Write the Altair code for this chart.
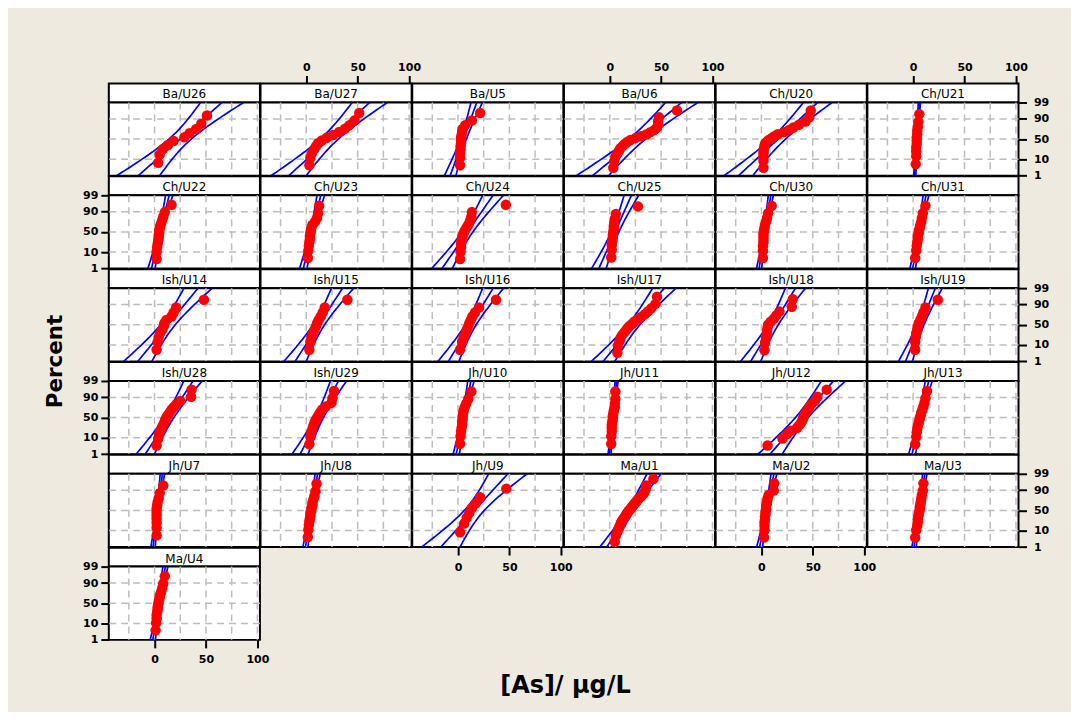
import math
import altair as alt
import pandas as pd
from statistics import NormalDist, mean, stdev

# ---- data: arsenic values per well ----
ba_u26 = [3.5, 5, 8, 13, 18.5, 29, 34, 40.5, 45.5, 51]
ba_u27 = [3, 4, 5.5, 7.5, 9.5, 11.5, 15, 20, 26, 32, 37.5, 42, 47, 51.5]
ba_u5 = [2, 2, 2, 2.5, 2.5, 3, 3, 3, 3.5, 4, 4.5, 7, 13.5, 21.5]
ba_u6 = [3.5, 4.5, 5.5, 7.5, 9, 10.5, 12.5, 14.5, 17, 20, 25, 30.5, 36, 39.5, 43.5, 46, 47, 47, 48, 65.5]
ch_u20 = [2, 2, 2, 2, 2, 2.5, 3, 3.5, 5, 7, 10, 12.5, 16, 22, 27, 31, 36.5, 43, 46.5, 48]
ch_u21 = [2.5, 3, 3, 3, 3.5, 3.5, 3.5, 4, 4, 4.5, 5, 6]
ch_u22 = [2, 2, 2.5, 3, 3.5, 4, 4, 4.5, 4.5, 5, 5.5, 6.5, 7.5, 8.5, 10, 16.5]
ch_u23 = [1.5, 2, 2.5, 3, 3.5, 3.5, 4, 4.5, 5, 6, 8.5, 10.5, 11.5, 12.5]
ch_u24 = [2, 2.5, 3, 3, 3.5, 4, 4.5, 5.5, 6.5, 8, 9.5, 11, 12, 13, 13.5, 46.5]
ch_u25 = [1.5, 2, 2, 2.5, 3, 3, 3.5, 4, 4, 4.5, 5, 6, 27.5]
ch_u30 = [1.5, 1.5, 1.5, 2, 2, 2, 2, 2.5, 3, 3.5, 4.5, 5.5, 6.5, 10]
ch_u31 = [2, 3, 3.5, 4, 4.5, 4.5, 5.5, 5.5, 6.5, 7, 8, 8.5, 9.5, 12]
ish_u14 = [2, 3, 4, 5.5, 7.5, 9, 9.5, 11.5, 16.5, 18.5, 21, 48]
ish_u15 = [3, 4, 5, 6.5, 8, 9.5, 10.5, 12, 14, 16, 18, 40]
ish_u16 = [2, 4, 5.5, 7.5, 8.5, 10, 11, 12.5, 14, 16.5, 20.5, 37]
ish_u17 = [7.5, 8, 9.5, 10.5, 12, 14, 16, 17.5, 19.5, 22, 24, 27.5, 30.5, 34, 37, 40.5, 44.5, 46]
ish_u18 = [3, 3.5, 4.5, 5, 5.5, 6, 6.5, 9, 12, 14.5, 17.5, 29.5, 30.5]
ish_u19 = [2, 2, 2.5, 3, 4, 4.5, 5.5, 7, 8.5, 10, 12, 24]
ish_u28 = [2, 3.5, 4.5, 5.5, 7, 8, 9.5, 10, 11, 12, 13.5, 15, 16.5, 18.5, 21, 25, 35.5, 36]
ish_u29 = [3, 4, 5, 6, 7, 8, 9, 10.5, 12, 13.5, 15.5, 19, 24.5, 25.5, 27]
jh_u10 = [2, 2.5, 3, 3.5, 4, 4, 4.5, 4.5, 5, 5.5, 6.5, 8, 10, 13]
jh_u11 = [1.5, 1.5, 2, 2, 2, 2.5, 3, 3, 3.5, 4, 5, 5, 5.5, 5.5]
jh_u12 = [6, 20.5, 25, 28.5, 34.5, 36.5, 38.5, 39.5, 40.5, 41, 42, 43.5, 45, 46.5, 48.5, 52, 54.5, 63.5]
jh_u13 = [2, 3, 3.5, 4, 4.5, 5.5, 6, 6.5, 7.5, 8, 9, 10, 11, 12, 13.5]
jh_u7 = [2, 2, 2, 2, 2, 2, 2, 2.5, 3, 4, 5, 8.5]
jh_u8 = [1.5, 2, 2.5, 3, 3.5, 4, 4, 5, 5, 6, 6, 7, 8, 9, 10]
jh_u9 = [2, 6, 8.5, 11, 13.5, 17.5, 21.5, 47]
ma_u1 = [5, 6, 7.5, 8.5, 9.5, 10.5, 11, 12, 13, 14, 15, 16, 16.5, 17.5, 18.5, 19.5,
         20.5, 21.5, 22.5, 23.5, 24.5, 26, 27, 28.5, 30.5, 32.5, 34, 35, 35.5, 42.5]
ma_u2 = [2.5, 3, 3, 3, 3.5, 3.5, 4, 4, 4.5, 4.5, 5, 5.5, 6, 7, 12, 12.5]
ma_u3 = [2, 3, 4, 4.5, 4.5, 5, 5.5, 6, 6.5, 6.5, 7, 7.5, 8, 8.5, 9.5, 10]
ma_u4 = [1, 1.5, 2, 2, 2.5, 3, 3, 3.5, 4, 4.5, 5, 5.5, 6.5, 7.5, 8.5, 10]

panel_names = ["Ba/U26", "Ba/U27", "Ba/U5", "Ba/U6", "Ch/U20", "Ch/U21",
               "Ch/U22", "Ch/U23", "Ch/U24", "Ch/U25", "Ch/U30", "Ch/U31",
               "Ish/U14", "Ish/U15", "Ish/U16", "Ish/U17", "Ish/U18", "Ish/U19",
               "Ish/U28", "Ish/U29", "Jh/U10", "Jh/U11", "Jh/U12", "Jh/U13",
               "Jh/U7", "Jh/U8", "Jh/U9", "Ma/U1", "Ma/U2", "Ma/U3",
               "Ma/U4"]
panel_values = [ba_u26, ba_u27, ba_u5, ba_u6, ch_u20, ch_u21,
                ch_u22, ch_u23, ch_u24, ch_u25, ch_u30, ch_u31,
                ish_u14, ish_u15, ish_u16, ish_u17, ish_u18, ish_u19,
                ish_u28, ish_u29, jh_u10, jh_u11, jh_u12, jh_u13,
                jh_u7, jh_u8, jh_u9, ma_u1, ma_u2, ma_u3,
                ma_u4]

pct_ticks = [1, 10, 50, 90, 99]
pct_labels = ["1", "10", "50", "90", "99"]
x_ticks = [0, 50, 100]
grid_x = [-25, 0, 25, 50, 75, 100]
grid_pct = [10, 50, 90]
X_DOMAIN = [-44.5, 102.5]
x_title = "[As]/ µg/L"
y_title = "Percent"

# ---- layout / style ----
NCOL = 6
W, HH, PH = 151.4, 19, 73.4
BG = "#EEEAE0"
GRID = "#BDBDBD"
FONT = "DejaVu Sans"

ND = NormalDist()
z_ticks = [ND.inv_cdf(p / 100) for p in pct_ticks]
Z_DOMAIN = [z_ticks[0], z_ticks[-1]]
z_grid = [ND.inv_cdf(p / 100) for p in grid_pct]

xscale = alt.Scale(domain=X_DOMAIN, nice=False, zero=False)
yscale = alt.Scale(domain=Z_DOMAIN, nice=False, zero=False)

expr = "'" + pct_labels[-1] + "'"
for i in range(len(z_ticks) - 2, -1, -1):
    mid = (z_ticks[i] + z_ticks[i + 1]) / 2
    expr = f"datum.value < {mid:.4f} ? '{pct_labels[i]}' : ({expr})"

title_style = dict(titleFont=FONT, titleFontWeight="bold", titleColor="black",
                   titleBaseline="middle", titleAlign="center")


def y_axis(orient, title=None, **kw):
    return alt.Axis(orient=orient, values=z_ticks, labelExpr=expr, title=title,
                    labelPadding=7 if orient == "right" else 3, **kw)


def x_axis(orient, title=None, **kw):
    return alt.Axis(orient=orient, values=x_ticks, title=title,
                    labelPadding=6 if orient == "bottom" else 3, **kw)


def plot_panel(vals, xax, yax):
    s = sorted(vals)
    n = len(s)
    pts = pd.DataFrame({"v": s,
                        "z": [ND.inv_cdf((i + 0.7) / (n + 0.4)) for i in range(n)]})
    m, sd = mean(s), stdev(s)
    rows = []
    for k in range(61):
        z = Z_DOMAIN[0] + (Z_DOMAIN[1] - Z_DOMAIN[0]) * k / 60
        half = 1.96 * sd * math.sqrt((1 + z * z / 2) / n)
        fit = m + sd * z
        rows += [{"v": fit - half, "z": z, "band": "lo"},
                 {"v": fit, "z": z, "band": "fit"},
                 {"v": fit + half, "z": z, "band": "hi"}]
    fitdf = pd.DataFrame(rows)

    def X(f):
        return alt.X(f, type="quantitative", scale=xscale, axis=xax)

    def Y(f):
        return alt.Y(f, type="quantitative", scale=yscale, axis=yax)

    vgrid = alt.Chart(pd.DataFrame({"gx": grid_x})).mark_rule(
        color=GRID, strokeWidth=1.5, strokeDash=[7, 5]).encode(x=X("gx"))
    hgrid = alt.Chart(pd.DataFrame({"gz": z_grid})).mark_rule(
        color=GRID, strokeWidth=1.5, strokeDash=[7, 5]).encode(y=Y("gz"))
    lines = alt.Chart(fitdf).mark_line(color="#0000FF", strokeWidth=1.7, clip=True).encode(
        x=X("v"), y=Y("z"), detail="band:N", order="z:Q")
    dots = alt.Chart(pts).mark_circle(color="#FF0000", size=110, opacity=1).encode(
        x=X("v"), y=Y("z"))
    return alt.layer(vgrid, hgrid, lines, dots).properties(width=W, height=PH)


def header(name, xax):
    df = pd.DataFrame({"label": [name], "mid": [sum(X_DOMAIN) / 2]})
    return alt.Chart(df).mark_text(font=FONT, fontSize=12, color="black",
                                   baseline="alphabetic").encode(
        x=alt.X("mid:Q", scale=xscale, axis=xax),
        y=alt.value(15),
        text="label:N").properties(width=W, height=HH)


def blank():
    return alt.Chart(pd.DataFrame({"a": [0]})).mark_point(opacity=0).encode(
        x=alt.value(0), y=alt.value(0)).properties(
        width=W, height=HH,
        view=alt.ViewBackground(stroke="transparent", fill="transparent"))


npan = len(panel_names)
last_row = {c: max(r for r in range(6) if r * NCOL + c < npan) for c in range(NCOL)}

cells = []
for r in range(0, math.ceil(npan / NCOL)):
    idx = list(range(r * NCOL, min((r + 1) * NCOL, npan)))
    for c in range(NCOL):
        if c < len(idx):
            xax = x_axis("top") if (r == 0 and c % 2 == 1) else None
            cells.append(header(panel_names[idx[c]], xax))
        else:
            cells.append(blank())
    for c, i in enumerate(idx):
        xax = None
        if c % 2 == 0 and last_row[c] == r:
            if panel_names[i] == "Jh/U9":
                xax = x_axis("bottom", title=x_title, titleX=153, titleY=139,
                             titleAngle=0, titleFontSize=24, **title_style)
            else:
                xax = x_axis("bottom")
        yax = None
        if c == 0 and r % 2 == 1:
            if panel_names[i] == "Ish/U28":
                yax = y_axis("left", title=y_title, titleX=-53, titleY=-20,
                             titleAngle=270, titleFontSize=21.5, **title_style)
            else:
                yax = y_axis("left")
        elif c == NCOL - 1 and r % 2 == 0:
            yax = y_axis("right")
        cells.append(plot_panel(panel_values[i], xax, yax))

chart = alt.concat(
    *cells, columns=NCOL, spacing=0, bounds="flush", align="each"
).properties(
    padding={"left": 36, "top": 52, "right": 21, "bottom": 12}
).configure(background=BG).configure_view(
    stroke="black", strokeWidth=2, fill="white"
).configure_axis(
    domain=False, grid=False, tickColor="black", tickWidth=2, tickSize=8,
    labelFont=FONT, labelFontSize=11, labelFontWeight="bold", labelColor="black",
    labelFlush=False, labelOverlap=False
)

chart.save("out.html", embed_options={"renderer": "svg", "actions": False})
